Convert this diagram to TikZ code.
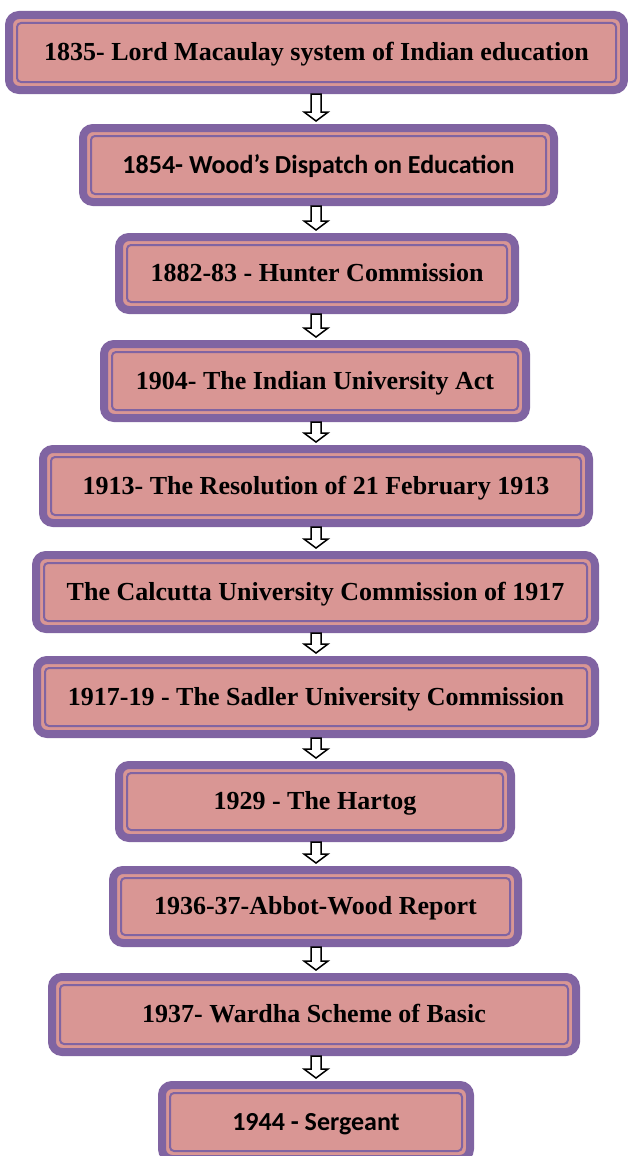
\documentclass[tikz,border=0pt]{standalone}
\usepackage{fontspec}
\setmainfont{Liberation Serif}
\newfontfamily\calibrifont{Carlito}
\usepackage{tikz}
\usetikzlibrary{calc}
\definecolor{framepurple}{HTML}{8064A2}
\definecolor{fillpink}{HTML}{D99694}

\newcommand\flowarrow[2]{%
  \draw[hollowarrow] let \p1=(#1.south), \p2=(#2.north) in
    (311pt,\y1) -- (311pt,\y2+12pt) -- (304pt,\y2+12pt) -- (316pt,\y2+3pt)
    -- (328pt,\y2+12pt) -- (321pt,\y2+12pt) -- (321pt,\y1) -- cycle;}

\begin{document}
\begin{tikzpicture}[x=1pt,y=-1pt,
  eventbox/.style={draw=framepurple,line width=8pt,fill=fillpink,rounded corners=10pt,
    minimum height=74,inner sep=0pt,text height=18pt,text depth=2pt,
    font=\fontsize{26pt}{30pt}\selectfont\bfseries,
    path picture={\draw[framepurple,line width=2pt,rounded corners=4pt]
      ([shift={(8pt,-8pt)}]path picture bounding box.north west) rectangle
      ([shift={(-8pt,8pt)}]path picture bounding box.south east);}},
  calibribox/.style={eventbox,font=\calibrifont\fontsize{26pt}{30pt}\selectfont\bfseries},
  hollowarrow/.style={draw=black,line width=1.5pt,fill=white,line join=miter}]
  \useasboundingbox (0,0) rectangle (628,1156);
  \node[eventbox,minimum width=615,minimum height=75] (macaulay) at (316.5,52.5) {1835- Lord Macaulay system of Indian education};
  \node[calibribox,minimum width=471] (wood) at (318.5,165) {1854- Wood’s Dispatch on Education};
  \node[eventbox,minimum width=396,minimum height=73] (hunter) at (317,273.5) {1882-83 - Hunter Commission};
  \node[eventbox,minimum width=422] (univact) at (315,381) {1904- The Indian University Act};
  \node[eventbox,minimum width=546] (resolution) at (316,486) {1913- The Resolution of 21 February 1913};
  \node[eventbox,minimum width=559] (calcutta) at (315.5,592) {The Calcutta University Commission of 1917};
  \node[eventbox,minimum width=558] (sadler) at (316,697) {1917-19 - The Sadler University Commission};
  \node[eventbox,minimum width=392,minimum height=73] (hartog) at (315,801.5) {1929 - The Hartog};
  \node[eventbox,minimum width=405,minimum height=73] (abbot) at (315.5,906.5) {1936-37-Abbot-Wood Report};
  \node[eventbox,minimum width=524,minimum height=75] (wardha) at (314,1014.5) {1937- Wardha Scheme of Basic};
  \node[calibribox,minimum width=308] (sergeant) at (316,1122) {1944 - Sergeant};
  \flowarrow{macaulay}{wood}
  \flowarrow{wood}{hunter}
  \flowarrow{hunter}{univact}
  \flowarrow{univact}{resolution}
  \flowarrow{resolution}{calcutta}
  \flowarrow{calcutta}{sadler}
  \flowarrow{sadler}{hartog}
  \flowarrow{hartog}{abbot}
  \flowarrow{abbot}{wardha}
  \flowarrow{wardha}{sergeant}
\end{tikzpicture}
\end{document}
